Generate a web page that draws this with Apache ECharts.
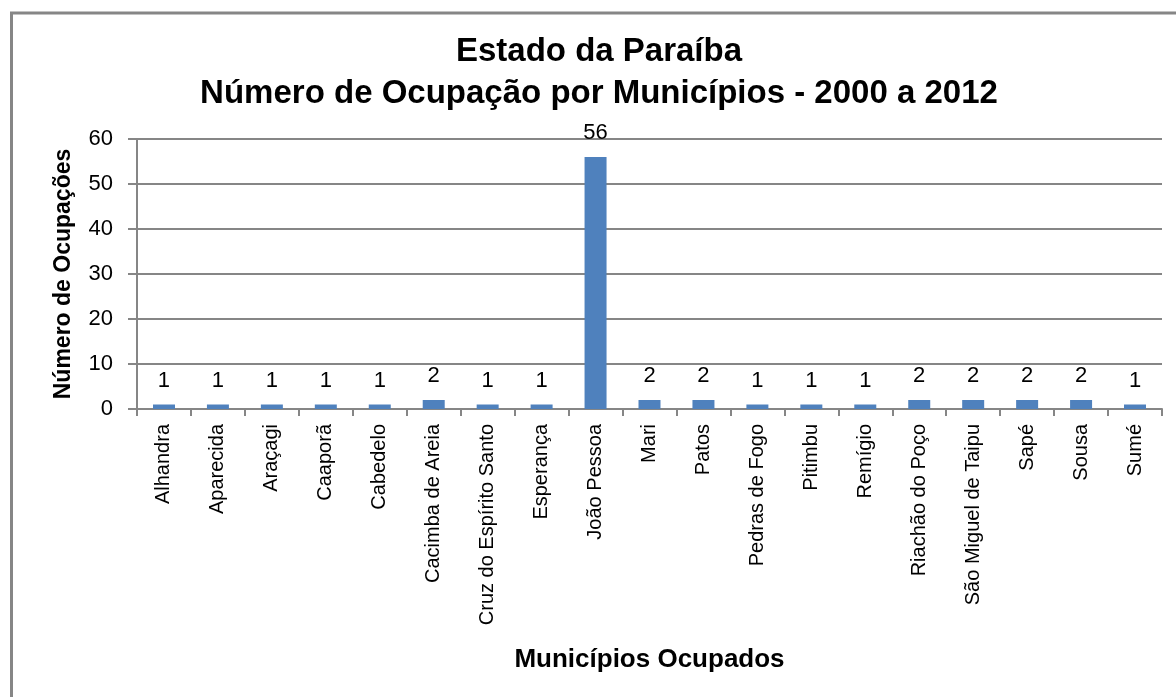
<!DOCTYPE html>
<html>
<head>
<meta charset="utf-8">
<script src="https://cdn.jsdelivr.net/npm/echarts@6/dist/echarts.min.js"></script>
<style>
html,body{margin:0;padding:0;background:#fff;}
#chart{width:1176px;height:697px;}
</style>
</head>
<body>
<div id="chart"></div>
<script>
const categories = ["Alhandra","Aparecida","Araçagi","Caaporã","Cabedelo","Cacimba de Areia","Cruz do Espírito Santo","Esperança","João Pessoa","Mari","Patos","Pedras de Fogo","Pitimbu","Remígio","Riachão do Poço","São Miguel de Taipu","Sapé","Sousa","Sumé"];
const values = [1,1,1,1,1,2,1,1,56,2,2,1,1,1,2,2,2,2,1];
const titleLines = ["Estado da Paraíba","Número de Ocupação por Municípios - 2000 a 2012"];
const xName = "Municípios Ocupados";
const yName = "Número de Ocupações";

const FONT = '"Liberation Sans", Arial, sans-serif';
const GRAY = '#868686';
const chart = echarts.init(document.getElementById('chart'), null, {renderer:'canvas'});
chart.setOption({
  animation:false,
  backgroundColor:'#fff',
  textStyle:{fontFamily:FONT},
  graphic:[{
    type:'polyline',
    shape:{points:[[11.5,1000],[11.5,13],[1200,13]]},
    style:{stroke:GRAY,lineWidth:3,fill:null}
  }],
  title:{
    text:titleLines.join('\n'),
    left:594, top:26, textAlign:'center',
    textStyle:{fontFamily:FONT,fontSize:33,fontWeight:'bold',color:'#000',lineHeight:42}
  },
  grid:{left:137,right:14,top:139,bottom:288,containLabel:false},
  xAxis:{
    type:'category',
    data:categories,
    name:xName,
    nameLocation:'middle',
    nameGap:238,
    nameTextStyle:{fontFamily:FONT,fontSize:26,fontWeight:'bold',color:'#000'},
    axisLine:{lineStyle:{color:GRAY,width:2}},
    axisTick:{show:true,length:7,lineStyle:{color:GRAY,width:2}},
    axisLabel:{rotate:90,fontSize:20,color:'#000',margin:15,interval:0,fontFamily:FONT}
  },
  yAxis:{
    type:'value',
    min:0,max:60,interval:10,
    name:yName,
    nameLocation:'middle',
    nameRotate:90,
    nameGap:62,
    nameTextStyle:{fontFamily:FONT,fontSize:23,fontWeight:'bold',color:'#000'},
    axisLine:{show:true,lineStyle:{color:GRAY,width:2}},
    axisTick:{show:true,length:9,lineStyle:{color:GRAY,width:2}},
    splitLine:{show:true,lineStyle:{color:GRAY,width:2}},
    axisLabel:{fontSize:22,color:'#000',margin:24,fontFamily:FONT}
  },
  series:[{
    type:'bar',
    data:values,
    barWidth:22,
    itemStyle:{color:'#4F81BD'},
    label:{show:true,position:'top',distance:13,fontSize:22,color:'#000',fontFamily:FONT}
  }]
});
</script>
</body>
</html>
